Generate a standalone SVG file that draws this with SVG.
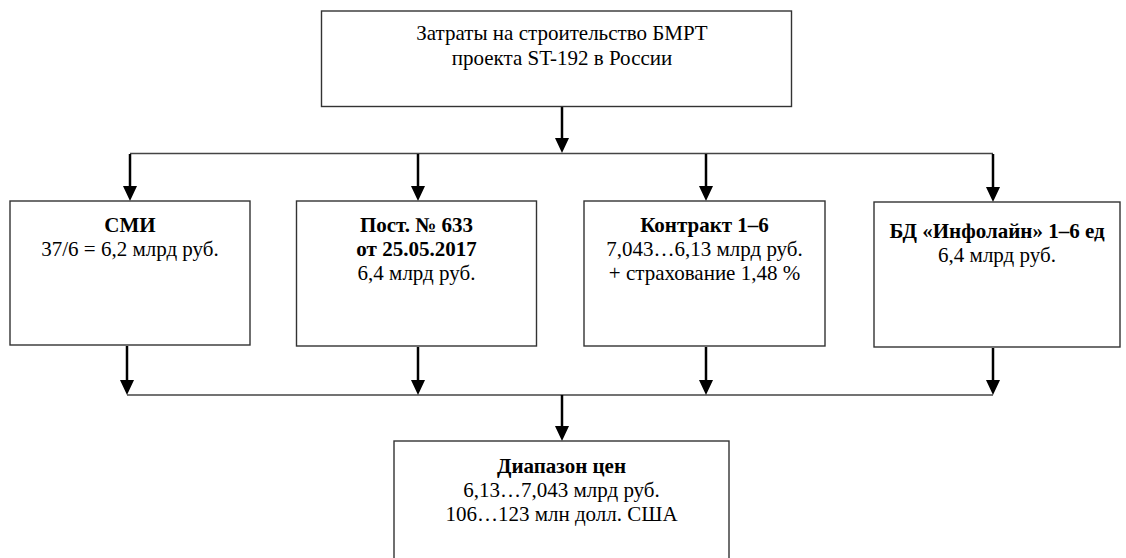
<svg xmlns="http://www.w3.org/2000/svg" width="1126" height="558" viewBox="0 0 1126 558">
<defs>
<style>
.box{fill:#fff;stroke:#333;stroke-width:1.4}
.t{font-family:"Liberation Serif","Times New Roman",serif;font-size:21px;fill:#000;text-anchor:middle}
.b{font-weight:bold}
.bus{stroke:#444;stroke-width:1.4;fill:none}
.stem{stroke:#000;stroke-width:2.5;fill:none}
</style>
<marker id="ah" markerWidth="14" markerHeight="15" refX="7" refY="15" orient="auto-start-reverse" markerUnits="userSpaceOnUse" viewBox="0 0 14 15">
<path d="M0,0 L14,0 L7,15 Z" fill="#000"/>
</marker>
</defs>
<rect width="1126" height="558" fill="#fff"/>
<g id="connectors">
<line class="bus" x1="130" y1="153.5" x2="993" y2="153.5"/>
<line class="bus" x1="127" y1="395" x2="993" y2="395"/>
<path class="stem" d="M562,107 V138"/><path d="M555,138 H569 L562,153 Z"/>
<path class="stem" d="M130,154 V186"/><path d="M123,186 H137 L130,201 Z"/>
<path class="stem" d="M418,154 V186"/><path d="M411,186 H425 L418,201 Z"/>
<path class="stem" d="M706,154 V186"/><path d="M699,186 H713 L706,201 Z"/>
<path class="stem" d="M993,154 V187"/><path d="M986,187 H1000 L993,202 Z"/>
<path class="stem" d="M127,346 V380"/><path d="M120,380 H134 L127,395 Z"/>
<path class="stem" d="M418,347 V380"/><path d="M411,380 H425 L418,395 Z"/>
<path class="stem" d="M706,347 V380"/><path d="M699,380 H713 L706,395 Z"/>
<path class="stem" d="M993,348 V380"/><path d="M986,380 H1000 L993,395 Z"/>
<path class="stem" d="M562,395 V426"/><path d="M555,426 H569 L562,441 Z"/>
</g>
<g id="top">
<rect class="box" x="321.5" y="11" width="470" height="95.5"/>
<text class="t" x="562" y="40">Затраты на строительство БМРТ</text>
<text class="t" x="562" y="65">проекта ST-192 в России</text>
</g>
<g id="smi">
<rect class="box" x="10" y="201" width="240" height="144"/>
<text class="t b" x="130" y="232">СМИ</text>
<text class="t" x="130" y="256">37/6 = 6,2 млрд руб.</text>
</g>
<g id="post">
<rect class="box" x="296.5" y="201" width="240" height="145"/>
<text class="t b" x="416.5" y="232">Пост. № 633</text>
<text class="t b" x="416.5" y="256">от 25.05.2017</text>
<text class="t" x="416.5" y="280">6,4 млрд руб.</text>
</g>
<g id="contract">
<rect class="box" x="584" y="201" width="241" height="145"/>
<text class="t b" x="704.5" y="232">Контракт 1–6</text>
<text class="t" x="704.5" y="256">7,043…6,13 млрд руб.</text>
<text class="t" x="704.5" y="280">+ страхование 1,48 %</text>
</g>
<g id="infoline">
<rect class="box" x="874" y="202" width="246" height="145"/>
<text class="t b" x="997" y="238">БД «Инфолайн» 1–6 ед</text>
<text class="t" x="997" y="262">6,4 млрд руб.</text>
</g>
<g id="range">
<rect class="box" x="394" y="441" width="335" height="125"/>
<text class="t b" x="561.5" y="473">Диапазон цен</text>
<text class="t" x="561.5" y="497">6,13…7,043 млрд руб.</text>
<text class="t" x="561.5" y="521">106…123 млн долл. США</text>
</g>
</svg>
